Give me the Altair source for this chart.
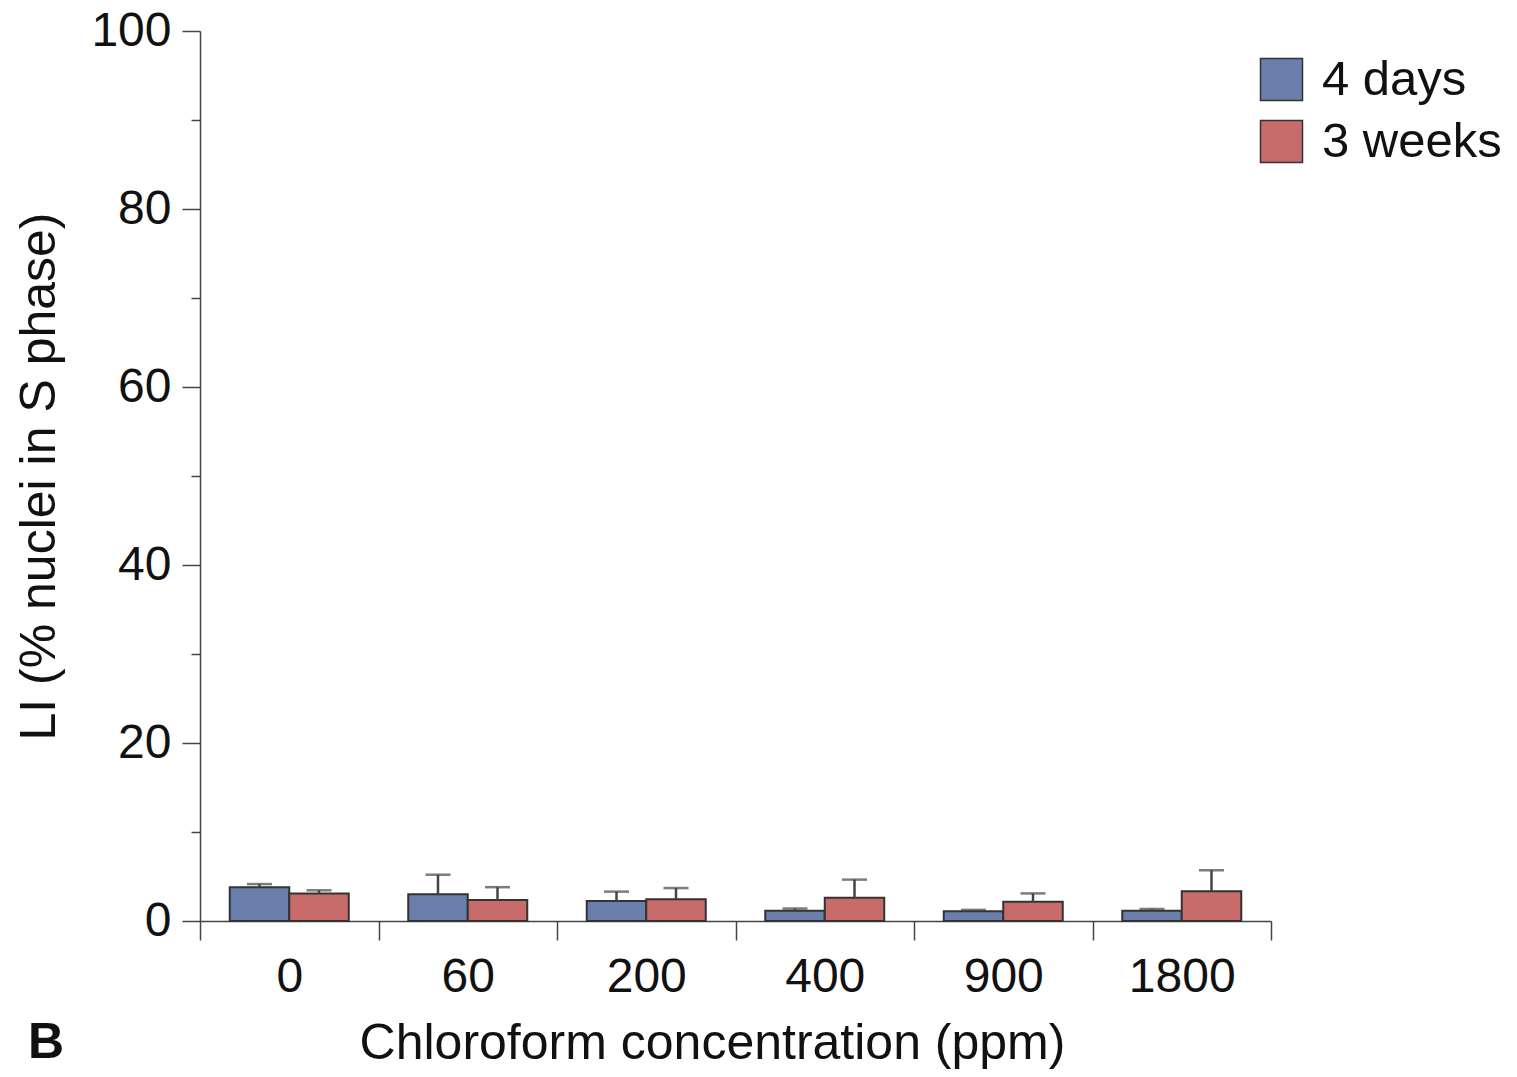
import altair as alt
import pandas as pd

conc = ["0", "60", "200", "400", "900", "1800"]
groups = ["4 days", "3 weeks"]
days4_mean = [3.8, 3.0, 2.25, 1.15, 1.1, 1.15]
days4_se = [0.35, 2.2, 1.05, 0.25, 0.15, 0.2]
weeks3_mean = [3.1, 2.35, 2.45, 2.6, 2.15, 3.35]
weeks3_se = [0.35, 1.45, 1.25, 2.05, 0.95, 2.35]
colors = ["#6a7fab", "#c86b6b"]

rows = []
for i, c in enumerate(conc):
    rows.append({"conc": c, "group": groups[0], "mean": days4_mean[i], "upper": days4_mean[i] + days4_se[i]})
    rows.append({"conc": c, "group": groups[1], "mean": weeks3_mean[i], "upper": weeks3_mean[i] + weeks3_se[i]})
df = pd.DataFrame(rows)

FONT = "Liberation Sans"
AX = "#444444"

x = alt.X("conc:N", sort=conc, title="Chloroform concentration (ppm)",
          scale=alt.Scale(paddingInner=0, paddingOuter=0),
          axis=alt.Axis(tickBand="extent", labelAngle=0, labelFontSize=48, labelFont=FONT,
                        labelColor="#111", labelPadding=13, tickSize=19, tickWidth=1.5,
                        tickColor=AX, domainColor=AX, domainWidth=1.5,
                        titleFontSize=50, titleFont=FONT, titleFontWeight="normal",
                        titleColor="#111", titlePadding=17, titleX=512))
xo = alt.XOffset("group:N", sort=groups, scale=alt.Scale(paddingInner=0, paddingOuter=0.5))
y = alt.Y("mean:Q", title="LI (% nuclei in S phase)",
          scale=alt.Scale(domain=[0, 100], nice=False),
          axis=alt.Axis(values=list(range(0, 101, 10)),
                        labelExpr="datum.value % 20 === 0 ? datum.label : ''",
                        tickSize={"condition": {"test": "datum.value % 20 === 0", "value": 18}, "value": 9},
                        tickWidth=1.5, tickColor=AX, domainColor=AX, domainWidth=1.5,
                        labelFontSize=48, labelFont=FONT, labelColor="#111", labelPadding=11,
                        titleFontSize=50, titleFont=FONT, titleFontWeight="normal",
                        titleColor="#111", titlePadding=26, grid=False))

base = alt.Chart(df)
bars = base.mark_bar(stroke="#333333", strokeWidth=2).encode(
    x=x, xOffset=xo, y=y,
    color=alt.Color("group:N", sort=groups, scale=alt.Scale(domain=groups, range=colors),
                    legend=alt.Legend(title=None, orient="none", legendX=1057, legendY=24,
                                      symbolType="square", symbolSize=1764,
                                      symbolStrokeColor="#333", symbolStrokeWidth=1.5,
                                      labelFontSize=49, labelFont=FONT, labelColor="#111",
                                      labelOffset=16, rowPadding=12, labelLimit=0)),
)
err = base.mark_rule(color="#444444", strokeWidth=2.5).encode(
    x=alt.X("conc:N", sort=conc), xOffset=alt.XOffset("group:N", sort=groups),
    y="mean:Q", y2="upper:Q")
cap = base.mark_tick(color="#444444", thickness=2.5, size=25).encode(
    x=alt.X("conc:N", sort=conc), xOffset=alt.XOffset("group:N", sort=groups),
    y="upper:Q")
panel = alt.Chart(pd.DataFrame({"t": ["B"]})).mark_text(
    font=FONT, fontSize=50, fontWeight="bold", align="left", baseline="alphabetic", color="#111"
).encode(text="t:N", x=alt.value(-172), y=alt.value(1027))

chart = alt.layer(bars, err, cap, panel).properties(
    width=1071, height=890,
    background="white",
    autosize=alt.AutoSizeParams(type="none"),
    padding={"left": 192, "top": 23, "right": 238, "bottom": 148},
).configure_view(stroke=None)

chart.save("out.html", embed_options={"renderer": "svg", "actions": False})
